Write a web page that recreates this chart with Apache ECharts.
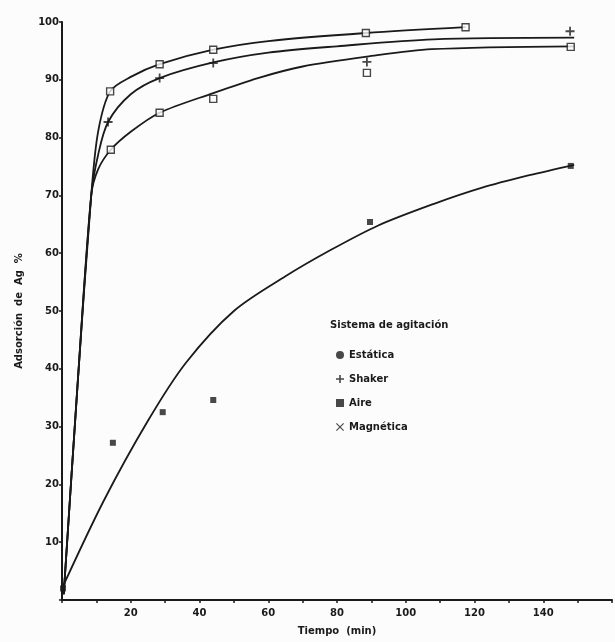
<!DOCTYPE html>
<html>
<head>
<meta charset="utf-8">
<script src="https://cdn.jsdelivr.net/npm/echarts@6/dist/echarts.min.js"></script>
<style>
html,body{margin:0;padding:0;background:#fcfcfc;}
#c{width:615px;height:642px;}
</style>
</head>
<body>
<div id="c"></div>
<script>
// ---- data ----
const xTicks = [20, 40, 60, 80, 100, 120, 140];
const yTicks = [10, 20, 30, 40, 50, 60, 70, 80, 90, 100];

// measured points
const estaticaPts  = [[0.3, 2], [14.8, 27.2], [29.3, 32.5], [44, 34.6], [89.6, 65.4], [148, 75.1]];
const shakerPts    = [[13.4, 82.7], [28.4, 90.3], [44, 92.9], [88.7, 93.1], [147.8, 98.4]];
const airePts      = [[14.2, 77.9], [28.4, 84.3], [44, 86.7], [88.7, 91.2], [148, 95.7]];
const magneticaPts = [[14, 88], [28.4, 92.7], [44, 95.2], [88.4, 98.1], [117.4, 99.1]];

// fitted curves as drawn
const estaticaCurve  = [[0, 2], [12, 17], [25, 31], [36, 41], [50, 50], [65, 56], [78, 60.5], [92, 64.8], [108, 68.5], [122, 71.3], [136, 73.5], [149, 75.3]];
const shakerCurve    = [[0.5, 1], [4.5, 37], [8.5, 70], [10.5, 77], [13.4, 82.7], [20, 87.5], [28.4, 90.3], [44, 93], [60, 94.7], [80, 95.8], [108, 97], [149, 97.3]];
const aireCurve      = [[0.5, 1], [4.5, 37], [8.5, 70], [10.5, 74.5], [14.2, 77.9], [20, 81], [28.4, 84.3], [44, 87.7], [57, 90.3], [70, 92.3], [88.7, 94], [107.5, 95.3], [149, 95.8]];
const magneticaCurve = [[0.5, 1], [4.5, 37], [8.5, 70], [10.5, 81], [14, 88], [20, 90.5], [28.4, 92.7], [44, 95.2], [60, 96.7], [88.4, 98.1], [117.4, 99.1]];

const seriesNames = ['Estática', 'Shaker', 'Aire', 'Magnética'];
const legendTitle = 'Sistema de agitación';
const xName = 'Tiempo  (min)';
const yName = 'Adsorción  de  Ag  %';

const plusPath = 'path://M4,0H6V4H10V6H6V10H4V6H0V4H4Z';
const crossPath = 'path://M1,0L5,4L9,0L10,1L6,5L10,9L9,10L5,6L1,10L0,9L4,5L0,1Z';

const ink = '#1a1a1a';
const font = 'DejaVu Sans';

function curve(data){
  return {type:'line', data:data, smooth:0.3, showSymbol:false, silent:true,
    lineStyle:{color:ink, width:1.8}, z:2};
}
function pts(name, data, symbol, size, filled){
  return {type:'scatter', name:name, data:data, symbol:symbol, symbolSize:size,
    itemStyle:{color: filled ? ink : '#fcfcfc', borderColor:ink, borderWidth: filled?0:1.4}, z:3};
}

const chart = echarts.init(document.getElementById('c'));
chart.setOption({
  backgroundColor:'#fcfcfc',
  animation:false,
  grid:{left:62, right:1, top:22, bottom:42, containLabel:false},
  xAxis:{
    type:'value', min:0, max:160, interval:10,
    name:xName, nameLocation:'middle', nameGap:26,
    nameTextStyle:{fontFamily:font, fontSize:10, fontWeight:'bold', color:ink},
    axisLine:{show:true, lineStyle:{color:ink, width:2}},
    axisTick:{show:true, length:3, inside:false, lineStyle:{color:ink, width:1.5}},
    axisLabel:{fontFamily:font, fontSize:10, fontWeight:'bold', color:ink, margin:8,
      formatter:function(v){ return xTicks.indexOf(v) >= 0 ? String(v) : ''; }},
    splitLine:{show:false}
  },
  yAxis:{
    type:'value', min:0, max:100, interval:10,
    name:yName, nameLocation:'middle', nameGap:38, nameRotate:90,
    nameTextStyle:{fontFamily:font, fontSize:10, fontWeight:'bold', color:ink},
    axisLine:{show:true, lineStyle:{color:ink, width:2}},
    axisTick:{show:true, length:3, lineStyle:{color:ink, width:1.5}},
    axisLabel:{fontFamily:font, fontSize:10, fontWeight:'bold', color:ink, margin:3,
      formatter:function(v){ return yTicks.indexOf(v) >= 0 ? String(v) : ''; }},
    splitLine:{show:false}
  },
  legend:{
    orient:'vertical', left:331, top:345, itemGap:14, itemWidth:8, itemHeight:8,
    textStyle:{fontFamily:font, fontSize:10, fontWeight:'bold', color:ink},
    data:[
      {name:seriesNames[0], icon:'circle', itemStyle:{color:ink, borderWidth:0}},
      {name:seriesNames[1], icon:plusPath, itemStyle:{color:ink, borderWidth:0}},
      {name:seriesNames[2], icon:'rect', itemStyle:{color:ink, borderWidth:0}},
      {name:seriesNames[3], icon:crossPath, itemStyle:{color:ink, borderWidth:0}}
    ],
    selectedMode:false
  },
  graphic:[{
    type:'text', left:330, top:320,
    style:{text:legendTitle, fontFamily:font, fontSize:10, fontWeight:'bold', fill:ink}
  }],
  series:[
    curve(estaticaCurve), curve(shakerCurve), curve(aireCurve), curve(magneticaCurve),
    pts(seriesNames[0], estaticaPts, 'rect', 6, true),
    pts(seriesNames[1], shakerPts, plusPath, 9, true),
    pts(seriesNames[2], airePts, 'rect', 7, false),
    pts(seriesNames[3], magneticaPts, 'rect', 7, false)
  ]
});
</script>
</body>
</html>
